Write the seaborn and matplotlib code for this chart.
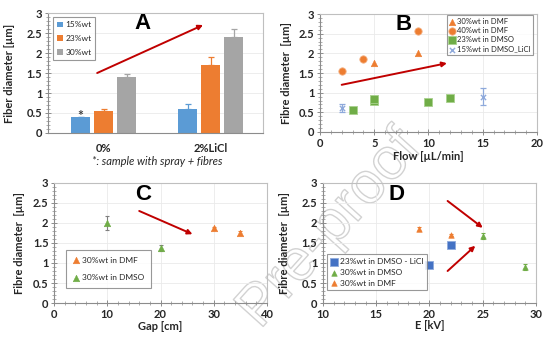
import matplotlib
matplotlib.use("Agg")
import matplotlib.pyplot as plt
import matplotlib.patheffects as pe
from matplotlib.ticker import MultipleLocator
import numpy as np
import pandas as pd
import seaborn as sns

sns.set_theme(style="white")
plt.rcParams["font.family"] = ["Lato", "DejaVu Sans"]

# ---- Panel A: LiCl effect on fibre diameter ----
a_conditions = ["0%", "2%LiCl"]
a_series = ["15%wt", "23%wt", "30%wt"]
a_values = {"15%wt": [0.40, 0.60], "23%wt": [0.55, 1.70], "30%wt": [1.40, 2.40]}
a_errors = {"15%wt": [0.00, 0.12], "23%wt": [0.05, 0.20], "30%wt": [0.07, 0.19]}

# ---- Panel B: flow rate ----
b_dmf30_x = [5, 9]
b_dmf30_y = [1.75, 2.00]
b_dmf40_x = [2, 4, 9]
b_dmf40_y = [1.55, 1.85, 2.57]
b_dmso23_x = [3, 5, 5, 10, 12]
b_dmso23_y = [0.55, 0.78, 0.83, 0.77, 0.87]
b_licl15_x = [2, 15]
b_licl15_y = [0.60, 0.90]
b_licl15_err = [0.10, 0.22]

# ---- Panel C: gap ----
c_dmf_x = [30, 35]
c_dmf_y = [1.87, 1.75]
c_dmf_err = [0.04, 0.04]
c_dmso_x = [10, 20]
c_dmso_y = [2.00, 1.37]
c_dmso_err = [0.17, 0.07]

# ---- Panel D: voltage ----
d_licl_x = [20, 22]
d_licl_y = [0.95, 1.45]
d_licl_err = [0.02, 0.04]
d_dmso_x = [25, 29]
d_dmso_y = [1.67, 0.90]
d_dmso_err = [0.08, 0.08]
d_dmf_x = [19, 22]
d_dmf_y = [1.85, 1.70]
d_dmf_err = [0.05, 0.03]

BLUE = "#5B9BD5"
ORANGE = "#ED7D31"
GRAY = "#A5A5A5"
GREEN = "#70AD47"
LBLUE = "#8EA9DB"
RED = "#C00000"
TXT = "#262626"

fig = plt.figure(figsize=(5.54, 3.45), dpi=100)

# faint outlined watermark behind transparent axes
fig.text(260 / 554, 1 - 330 / 345, "Pre-proof", fontsize=42, rotation=48,
         rotation_mode="anchor", ha="left", va="baseline", color="none",
         family="Liberation Sans", zorder=-5,
         path_effects=[pe.Stroke(linewidth=1.0, foreground="#D2D2D2")])

axA = fig.add_axes([0.0866, 0.6145, 0.388, 0.3478])
axB = fig.add_axes([0.5776, 0.6174, 0.3917, 0.342])
axC = fig.add_axes([0.0975, 0.1217, 0.3845, 0.348])
axD = fig.add_axes([0.583, 0.1217, 0.3845, 0.348])


def style_axes(ax, xminor=None, xgrid=True):
    ax.set_facecolor("none")
    for side in ["top", "right"]:
        ax.spines[side].set_color("#BFBFBF")
        ax.spines[side].set_linewidth(0.8)
    for side in ["left", "bottom"]:
        ax.spines[side].set_color("#8C8C8C")
        ax.spines[side].set_linewidth(0.8)
    ax.set_ylim(0, 3)
    ax.yaxis.set_minor_locator(MultipleLocator(0.1))
    ax.set_yticks([0, 0.5, 1, 1.5, 2, 2.5, 3])
    ax.set_yticklabels(["0", "0.5", "1", "1.5", "2", "2.5", "3"])
    if xminor is not None:
        ax.xaxis.set_minor_locator(MultipleLocator(xminor))
    ax.grid(True, axis="y", which="major", color="#EAEAEA", lw=0.6)
    if xgrid:
        ax.grid(True, axis="x", which="major", color="#EAEAEA", lw=0.6)
    ax.set_axisbelow(True)
    ax.tick_params(axis="both", which="major", direction="inout", length=4,
                   width=0.7, color="#8C8C8C", labelsize=8, pad=2,
                   labelcolor=TXT, left=True, bottom=True)
    ax.tick_params(axis="both", which="minor", direction="inout", length=2.5,
                   width=0.5, color="#8C8C8C", left=True, bottom=True)
    for lab in ax.get_xticklabels() + ax.get_yticklabels():
        lab.set_fontweight("bold")


def arrow(ax, start, end):
    ax.annotate("", xy=end, xytext=start,
                arrowprops=dict(arrowstyle="-|>", color=RED, lw=1.4,
                                mutation_scale=7, shrinkA=0, shrinkB=0))


def panel_letter(ax, letter, x, y):
    ax.text(x, y, letter, transform=ax.transAxes, fontsize=16,
            fontweight="bold", color="black", ha="center", va="center",
            family="Liberation Sans")


def legend(ax, **kw):
    opts = dict(fontsize=6, frameon=True, fancybox=False, borderpad=0.5,
                labelspacing=0.6, handletextpad=0.3, borderaxespad=0)
    opts.update(kw)
    leg = ax.legend(**opts)
    leg.get_frame().set_edgecolor("#7F7F7F")
    leg.get_frame().set_linewidth(0.8)
    leg.get_frame().set_facecolor("white")
    for t in leg.get_texts():
        t.set_color(TXT)
    return leg


def ylabel(ax, text, xpos):
    ax.set_ylabel(text, fontsize=8, fontweight="bold", color=TXT)
    ax.yaxis.set_label_coords(xpos, 0.5)


# ---------------- A ----------------
rows = []
for s in a_series:
    for c, v in zip(a_conditions, a_values[s]):
        rows.append({"cond": c, "series": s, "value": v})
dfA = pd.DataFrame(rows)
sns.barplot(data=dfA, x="cond", y="value", hue="series", order=a_conditions,
            hue_order=a_series, palette=[BLUE, ORANGE, GRAY], width=0.645,
            gap=0.2, errorbar=None, ax=axA, saturation=1, linewidth=0)
for cont, s, col in zip(axA.containers, a_series, [BLUE, ORANGE, GRAY]):
    xs = [b.get_x() + b.get_width() / 2 for b in cont]
    errs = a_errors[s]
    axA.errorbar(xs, a_values[s], yerr=[np.zeros(len(errs)), errs], fmt="none",
                 ecolor=col, elinewidth=0.9, capsize=2, capthick=0.9)
    if s == "15%wt":
        axA.text(xs[0], a_values[s][0] + 0.02, "*", ha="center", va="center",
                 fontsize=10, fontweight="bold", color="#404040")
axA.set_xlim(-0.52, 1.49)
style_axes(axA, xgrid=False)
axA.tick_params(axis="x", length=0, pad=7)
axA.set_xlabel("")
ylabel(axA, "Fiber diameter [\u00b5m]", -0.155)
arrow(axA, (-0.06, 1.5), (0.93, 2.7))
panel_letter(axA, "A", 0.44, 0.91)
legend(axA, loc="upper left", bbox_to_anchor=(0.022, 0.965),
       handlelength=0.7, handleheight=0.7, labelspacing=0.8)
fig.text(157 / 554, 1 - 162 / 345, "*: sample with spray + fibres",
         fontsize=8, style="italic", ha="center", va="center", color=TXT)

# ---------------- B ----------------
sns.scatterplot(x=b_dmf30_x, y=b_dmf30_y, marker="^", s=22, color=ORANGE,
                edgecolor=ORANGE, linewidth=0.4, ax=axB, label="30%wt in DMF",
                zorder=3)
sns.scatterplot(x=b_dmf40_x, y=b_dmf40_y, marker="o", s=28, color=ORANGE,
                edgecolor="#F4B183", linewidth=0.6, ax=axB,
                label="40%wt in DMF", zorder=3)
sns.scatterplot(x=b_dmso23_x, y=b_dmso23_y, marker="s", s=28, color=GREEN,
                edgecolor="#A9D18E", linewidth=0.6, ax=axB,
                label="23%wt in DMSO", zorder=3)
axB.errorbar(b_licl15_x, b_licl15_y, yerr=b_licl15_err, fmt="none",
             ecolor=LBLUE, elinewidth=0.9, capsize=2, capthick=0.9, zorder=2)
sns.scatterplot(x=b_licl15_x, y=b_licl15_y, marker="x", s=14, color=LBLUE,
                linewidth=1.0, ax=axB, label="15%wt in DMSO_LiCl", zorder=3)
axB.set_xlim(0, 20)
axB.set_xticks([0, 5, 10, 15, 20])
style_axes(axB, xminor=1)
axB.set_xlabel("Flow [\u00b5L/min]", fontsize=8, fontweight="bold", color=TXT)
axB.xaxis.set_label_coords(0.5, -0.16)
ylabel(axB, "Fibre diameter  [\u00b5m]", -0.13)
arrow(axB, (2, 1.2), (11.7, 1.75))
panel_letter(axB, "B", 0.387, 0.915)
legend(axB, loc="upper right", bbox_to_anchor=(0.982, 0.99), fontsize=5.5,
       handlelength=0.7, labelspacing=0.3, borderpad=0.35)

# ---------------- C ----------------
axC.errorbar(c_dmf_x, c_dmf_y, yerr=c_dmf_err, fmt="none", ecolor=ORANGE,
             elinewidth=0.8, capsize=1.5, capthick=0.8, zorder=2)
sns.scatterplot(x=c_dmf_x, y=c_dmf_y, marker="^", s=22, color=ORANGE,
                edgecolor=ORANGE, linewidth=0.4, ax=axC,
                label="30%wt in DMF", zorder=3)
axC.errorbar(c_dmso_x, c_dmso_y, yerr=c_dmso_err, fmt="none", ecolor="#7F7F7F",
             elinewidth=0.8, capsize=1.5, capthick=0.8, zorder=2)
sns.scatterplot(x=c_dmso_x, y=c_dmso_y, marker="^", s=22, color=GREEN,
                edgecolor=GREEN, linewidth=0.4, ax=axC,
                label="30%wt in DMSO", zorder=3)
axC.set_xlim(0, 40)
axC.set_xticks([0, 10, 20, 30, 40])
style_axes(axC, xminor=2)
axC.set_xlabel("Gap [cm]", fontsize=8, fontweight="bold", color=TXT)
axC.xaxis.set_label_coords(0.5, -0.15)
ylabel(axC, "Fibre diameter  [\u00b5m]", -0.135)
arrow(axC, (16, 2.3), (26, 1.72))
panel_letter(axC, "C", 0.418, 0.905)
legend(axC, loc="lower left", bbox_to_anchor=(0.056, 0.125),
       handlelength=0.8, labelspacing=1.3, borderpad=0.8)

# ---------------- D ----------------
axD.errorbar(d_licl_x, d_licl_y, yerr=d_licl_err, fmt="none", ecolor=BLUE,
             elinewidth=0.8, capsize=1.5, capthick=0.8, zorder=2)
sns.scatterplot(x=d_licl_x, y=d_licl_y, marker="s", s=30, color="#4472C4",
                edgecolor="#8FAADC", linewidth=0.6, ax=axD,
                label="23%wt in DMSO - LiCl", zorder=3)
axD.errorbar(d_dmso_x, d_dmso_y, yerr=d_dmso_err, fmt="none", ecolor=GREEN,
             elinewidth=0.8, capsize=1.5, capthick=0.8, zorder=2)
sns.scatterplot(x=d_dmso_x, y=d_dmso_y, marker="^", s=16, color=GREEN,
                edgecolor=GREEN, linewidth=0.4, ax=axD,
                label="30%wt in DMSO", zorder=3)
axD.errorbar(d_dmf_x, d_dmf_y, yerr=d_dmf_err, fmt="none", ecolor=ORANGE,
             elinewidth=0.8, capsize=1.5, capthick=0.8, zorder=2)
sns.scatterplot(x=d_dmf_x, y=d_dmf_y, marker="^", s=16, color=ORANGE,
                edgecolor=ORANGE, linewidth=0.4, ax=axD,
                label="30%wt in DMF", zorder=3)
axD.set_xlim(10, 30)
axD.set_xticks([10, 15, 20, 25, 30])
style_axes(axD, xminor=1)
axD.set_xlabel("E [kV]", fontsize=8, fontweight="bold", color=TXT)
axD.xaxis.set_label_coords(0.5, -0.145)
ylabel(axD, "Fibre diameter  [\u00b5m]", -0.155)
arrow(axD, (21.7, 2.55), (25.0, 1.88))
arrow(axD, (21.7, 0.80), (24.3, 1.43))
panel_letter(axD, "D", 0.347, 0.9)
legend(axD, loc="lower left", bbox_to_anchor=(0.018, 0.105),
       handlelength=0.8, labelspacing=0.45, borderpad=0.45)

fig.savefig("out.png", dpi=100)
